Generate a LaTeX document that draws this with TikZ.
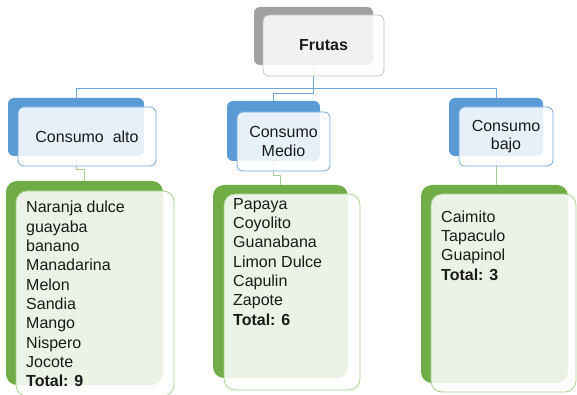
\documentclass[tikz,border=0pt]{standalone}
\usepackage{fontspec}
\setmainfont{Liberation Sans}
\definecolor{bblue}{HTML}{5B9BD5}
\definecolor{bline}{HTML}{6FA8DC}
\definecolor{ggreen}{HTML}{70AD47}
\definecolor{gline}{HTML}{A9D18E}
\definecolor{ggray}{HTML}{A0A0A0}
\definecolor{gline2}{HTML}{C0C0C0}
\definecolor{txt}{HTML}{1A1A1A}
\tikzset{
  backbox/.style={rectangle, inner sep=0pt, rounded corners=6pt},
  frontbox/.style={rectangle, inner sep=0pt, rounded corners=6pt, fill=white, fill opacity=0.86, text opacity=1, line width=0.8pt, text=txt, align=center, font=\fontsize{16}{18.5}\selectfont},
  bigr/.style={rounded corners=11pt},
  listtxt/.style={anchor=base west, inner sep=0pt, align=left, text=txt, font=\fontsize{16}{19.33}\selectfont},
  bconn/.style={draw=bline, line width=0.8pt},
  gconn/.style={draw=gline, line width=0.8pt},
}
\begin{document}
\begin{tikzpicture}[x=1pt,y=-1pt]
\useasboundingbox (0,0) rectangle (577,395);
% back boxes
\node[backbox, fill=ggray, minimum width=119pt, minimum height=58pt] (frutasB) at (313.5,36) {};
\node[backbox, fill=bblue, minimum width=136pt, minimum height=58pt] (altoB) at (76,127) {};
\node[backbox, fill=bblue, minimum width=93pt, minimum height=60pt] (medioB) at (273.5,131) {};
\node[backbox, fill=bblue, minimum width=94pt, minimum height=58pt] (bajoB) at (496,127) {};
\node[backbox, bigr, fill=ggreen, minimum width=157pt, minimum height=204pt] (altoGB) at (84.5,283) {};
\node[backbox, bigr, fill=ggreen, minimum width=135pt, minimum height=193pt] (medioGB) at (280.5,281.5) {};
\node[backbox, bigr, fill=ggreen, minimum width=147pt, minimum height=198pt] (bajoGB) at (494.5,284) {};
% connectors
\draw[bconn] (frutasB.south) -- ++(0,23.5) -| (altoB.north);
\draw[bconn] (frutasB.south) -- ++(0,28) -| (medioB.north);
\draw[bconn] (frutasB.south) -- ++(0,23.5) -| (bajoB.north);
\draw[gconn] (altoB.south) -- ++(0,13) -| (altoGB.north);
\draw[gconn] (medioB.south) -- ++(0,14) -| (medioGB.north);
\draw[gconn] (bajoB.south) -- (bajoB.south |- bajoGB.north);
% front boxes
\node[frontbox, draw=gline2, minimum width=121pt, minimum height=61pt, font=\fontsize{16}{18.5}\selectfont\bfseries] (frutasF) at (323.5,45.5) {Frutas};
\node[frontbox, draw=bline, minimum width=138pt, minimum height=59pt] (altoF) at (87,136.5) {Consumo\ \ alto};
\node[frontbox, draw=bline, minimum width=93pt, minimum height=59pt] (medioF) at (283.5,141.5) {Consumo\\Medio};
\node[frontbox, draw=bline, minimum width=94pt, minimum height=59pt] (bajoF) at (506,136.5) {Consumo\\bajo};
\node[frontbox, bigr, draw=gline, minimum width=158pt, minimum height=205pt] (altoGF) at (95,293.5) {};
\node[frontbox, bigr, draw=gline, minimum width=136pt, minimum height=196pt] (medioGF) at (292,292) {};
\node[frontbox, bigr, draw=gline, minimum width=145pt, minimum height=198pt] (bajoGF) at (503.5,293) {};
% lists (anchored at the baseline of the last line)
\node[listtxt] (altoL) at (26,386.7) {Naranja dulce\\guayaba\\banano\\Manadarina\\Melon\\Sandia\\Mango\\Nispero\\Jocote\\\textbf{Total: 9}};
\node[listtxt] (medioL) at (233,325.2) {Papaya\\Coyolito\\Guanabana\\Limon Dulce\\Capulin\\Zapote\\\textbf{Total: 6}};
\node[listtxt] (bajoL) at (441,280) {Caimito\\Tapaculo\\Guapinol\\\textbf{Total: 3}};
\end{tikzpicture}
\end{document}
